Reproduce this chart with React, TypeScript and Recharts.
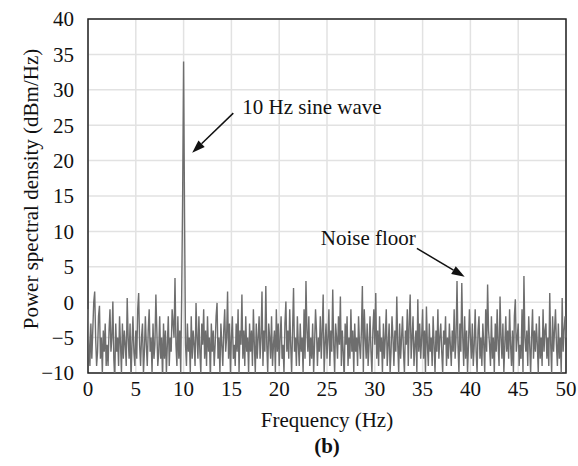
import { LineChart, Line, XAxis, YAxis, CartesianGrid, ReferenceLine, ReferenceArea, Label } from 'recharts';

// spectrum sampled every 0.1 Hz from 0 to 50 Hz (one row = 1 Hz)
const FREQ_STEP = 0.1;
const psd: number[] = [
  -1, -6, -9, -3, -8, -4, 0, 1.5, -5, -9,
  -7, -2, -0.5, -8, -5, -10, -4, -7, -3, -9,
  -6, -9, -4, -1, -7, -5, 0.1, -8, -11, -3,
  -7, -5, -9, -2, -6, -10, -3, -8, -4, -6,
  -9, 0.6, -5, -8, -3, -11, -6, -2, -7, -9,
  -4, -8, -1, 1.3, -6, -9, -5, -3, -10, -7,
  -2, -6, -9, -4, -1, -7, -5, -10, -3, -8,
  -6, 1.1, -4, -9, -7, -2, -8, -5, -11, -3,
  -8, -4, -10, -6, -2, -9, -5, -7, -1, -3,
  -5, 3.4, -6, -9, -2, -8, -4, -10, 1, 15,
  34, 12, -6, -9, -3, -7, -5, -10, -2, -8,
  -4, -6, -9, -0.1, -5, -8, -2, -7, -10, -3,
  -6, -1, -8, -4, -9, -2, -7, -5, -11, -3,
  -7, -4, -9, -6, -2, -0.1, -8, -5, -10, -3,
  -6, -9, -4, -1, -7, -5, 1.5, -8, -3, -10,
  -5, -2, -8, -6, -9, -3, -7, -1, -10, -4,
  -6, 1.1, -8, -4, -9, -2, -7, -5, -10, -3,
  -7, -4, -9, -1, -6, -10, -3, -8, -5, -2,
  -8, -5, 1.5, -9, -4, -7, 2.3, -6, -10, -3,
  -5, -8, -2, -9, -6, -4, -10, -1, -7, -3,
  -9, -5, -2, -8, -6, -10, -3, 0.1, -7, -4,
  -8, -1, -6, -10, -4, 2.0, -7, -5, -9, -2,
  -6, -9, -3, -7, -5, -10, -1, -8, 3.0, -4,
  -7, -2, -9, -5, -8, -3, -10, -6, -1, -4,
  -9, -5, -7, -2, -8, -4, 1.1, -10, -6, -3,
  -8, -5, -1, -9, -4, -7, 1.8, -6, -10, -3,
  -5, -8, -2, -6, 0.8, -9, -4, -7, -11, -3,
  -6, -2, -9, -5, -8, -1, -7, -4, -10, -3,
  -7, -5, -9, -2, -6, -8, -4, 2.3, -10, -1,
  -5, -8, -3, -9, -6, -2, -7, -10, -4, -1,
  -6, 1.3, -8, -4, -9, -2, -7, -5, -10, -3,
  -8, -5, -1, -9, -6, -3, -10, -7, -2, -5,
  -9, -4, -7, 0.8, -6, -10, -3, -8, -5, -2,
  -7, -10, -4, -6, -1, -9, -3, 1.1, -8, -5,
  -2, -9, -6, -4, -10, 0.4, -7, -3, -8, -5,
  -1, -8, -4, -10, -0.6, -6, -9, -3, -7, -5,
  -9, -2, -6, -10, -4, -7, -1, -8, -5, -3,
  -7, -10, -4, -6, -2, -9, -5, -8, -3, -6,
  -9, -4, -7, -1, -8, -5, 3.0, -6, -10, -3,
  -7, 2.7, -5, -9, -2, -8, -4, -10, -6, -1,
  -5, -8, -3, -9, -6, -1, -7, -10, -4, -2,
  -8, -5, -9, -3, -6, -10, -1, -7, 2.5, -4,
  -6, -9, -2, -8, -5, -10, -3, -7, -1, -6,
  -9, 0.8, -5, -8, -3, -10, -6, -2, -7, -4,
  -8, -1, -6, -9, -4, -10, -2, 0.4, -7, -5,
  -3, -9, -6, -8, -1, -10, 3.7, -5, -7, -4,
  -9, -2, -6, -10, -5, -1, -8, -4, -7, -3,
  -6, -10, -2, -8, -5, -9, -1, -7, -4, -3,
  -8, -5, -9, 1.3, -6, -10, -2, -7, -4, -1,
  -6, -9, -3, -8, -5, -10, 0.6, -7, -4, -2,
  -5,
];

const xTicks = [0, 5, 10, 15, 20, 25, 30, 35, 40, 45, 50];
const yTicks = [-10, -5, 0, 5, 10, 15, 20, 25, 30, 35, 40];

// annotation arrows: [freq, dBm/Hz] of tail and head
const sineArrow = { from: [15.2, 26.7], to: [10.9, 21.1], text: '10 Hz sine wave' };
const noiseArrow = { from: [34.4, 7.6], to: [39.4, 3.6], text: 'Noise floor' };

const data = psd.map((v, i) => ({ freq: Math.round(i * FREQ_STEP * 10) / 10, psd: v }));

const FONT = '"Liberation Serif", "Times New Roman", serif';

const fmt = (v: number) => (v < 0 ? `\u2212${Math.abs(v)}` : `${v}`);

function arrowShape(text: string, side: 'right' | 'left') {
  return (props: any) => {
    const { x1, y1, x2, y2 } = props;
    const a = Math.atan2(y2 - y1, x2 - x1);
    const len = 13;
    const w = 4.5;
    const bx = x2 - len * Math.cos(a);
    const by = y2 - len * Math.sin(a);
    const p1 = `${bx + w * Math.sin(a)},${by - w * Math.cos(a)}`;
    const p2 = `${bx - w * Math.sin(a)},${by + w * Math.cos(a)}`;
    return (
      <g>
        <line x1={x1} y1={y1} x2={bx} y2={by} stroke="#111" strokeWidth={1.5} />
        <polygon points={`${x2},${y2} ${p1} ${p2}`} fill="#111" />
        <text
          x={side === 'right' ? x1 + 9 : x1 - 1}
          y={side === 'right' ? y1 + 1 : y1 - 3}
          textAnchor={side === 'right' ? 'start' : 'end'}
          fontFamily={FONT}
          fontSize={21}
          fill="#111"
        >
          {text}
        </text>
      </g>
    );
  };
}

export default function App() {
  return (
    <div style={{ width: 578, height: 466, background: '#fff' }}>
      <style>{'body{margin:0}'}</style>
      <LineChart width={578} height={466} data={data} margin={{ top: 19, right: 12, left: 0, bottom: 0 }}>
        <CartesianGrid stroke="#e2e2e2" strokeWidth={1.5} />
        <XAxis
          dataKey="freq"
          type="number"
          domain={[0, 50]}
          ticks={xTicks}
          height={93}
          tickLine={false}
          tickSize={0}
          tickMargin={8}
          axisLine={false}
          tick={{ fill: '#111', fontSize: 21, fontFamily: FONT }}
        >
          <Label
            content={({ viewBox }: any) => (
              <g fontFamily={FONT} fill="#111" textAnchor="middle">
                <text x={viewBox.x + viewBox.width / 2} y={viewBox.y + 54} fontSize={21}>
                  Frequency (Hz)
                </text>
                <text x={viewBox.x + viewBox.width / 2} y={viewBox.y + 80} fontSize={21} fontWeight="bold">
                  (b)
                </text>
              </g>
            )}
          />
        </XAxis>
        <YAxis
          type="number"
          domain={[-10, 40]}
          ticks={yTicks}
          allowDataOverflow
          width={88}
          tickLine={false}
          tickSize={0}
          tickMargin={14}
          axisLine={false}
          tickFormatter={fmt}
          tick={{ fill: '#111', fontSize: 21, fontFamily: FONT }}
        >
          <Label
            content={({ viewBox }: any) => (
              <text
                x={31}
                y={viewBox.y + viewBox.height / 2 - 7}
                transform={`rotate(-90, 31, ${viewBox.y + viewBox.height / 2 - 7})`}
                textAnchor="middle"
                dominantBaseline="central"
                fontFamily={FONT}
                fontSize={21}
                fill="#111"
              >
                Power spectral density (dBm/Hz)
              </text>
            )}
          />
        </YAxis>
        <Line
          type="linear"
          dataKey="psd"
          stroke="#6e6e6e"
          strokeWidth={1.4}
          dot={false}
          isAnimationActive={false}
        />
        <ReferenceArea x1={0} x2={50} y1={-10} y2={40} fill="none" stroke="#222" strokeWidth={1.5} />
        <ReferenceLine
          segment={[
            { x: sineArrow.from[0], y: sineArrow.from[1] },
            { x: sineArrow.to[0], y: sineArrow.to[1] },
          ]}
          shape={arrowShape(sineArrow.text, 'right')}
        />
        <ReferenceLine
          segment={[
            { x: noiseArrow.from[0], y: noiseArrow.from[1] },
            { x: noiseArrow.to[0], y: noiseArrow.to[1] },
          ]}
          shape={arrowShape(noiseArrow.text, 'left')}
        />
      </LineChart>
    </div>
  );
}
